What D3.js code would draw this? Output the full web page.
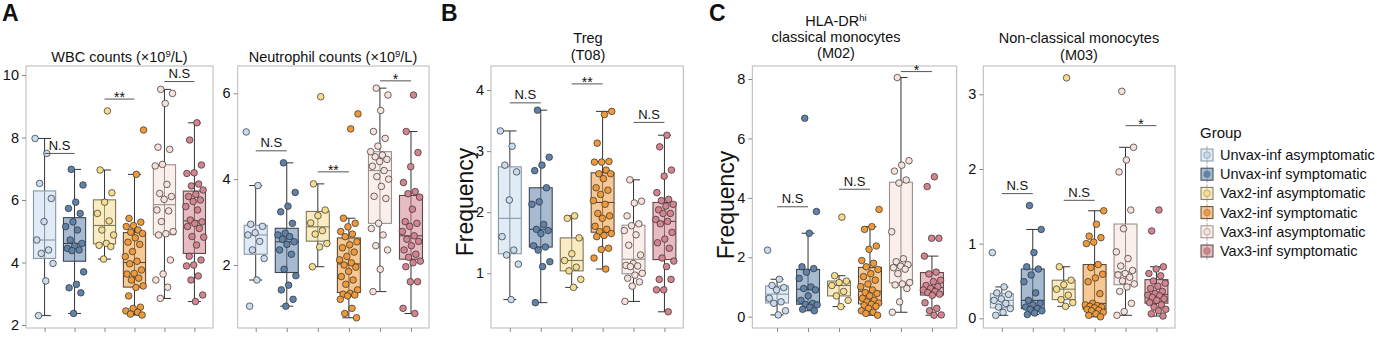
<!DOCTYPE html>
<html><head><meta charset="utf-8">
<script src="https://cdn.jsdelivr.net/npm/d3@7"></script>
<style>
body{margin:0;background:#fff}
svg{display:block}
text{font-family:"Liberation Sans",Arial,sans-serif;fill:#111}
</style>
</head><body>
<svg id="chart" width="1377" height="348"></svg>
<script>
// ---------- categories ----------
const groups = ["Unvax-inf asymptomatic","Unvax-inf symptomatic","Vax2-inf asymptomatic","Vax2-inf symptomatic","Vax3-inf asymptomatic","Vax3-inf symptomatic"];

// ---------- series values (one array per group) ----------
const wbcValues = [
  [7.97,7.49,6.53,6.05,5.31,4.72,4.40,4.29,3.97,3.41,2.30],
  [6.98,6.48,5.93,5.73,5.57,5.30,5.15,5.04,4.72,4.61,4.53,4.45,4.40,4.38,3.70,3.30,3.19,3.03,2.37],
  [8.85,6.96,6.23,5.93,5.57,5.33,5.04,4.88,4.61,4.55,4.51,4.11],
  [8.24,6.82,5.41,5.29,5.18,5.15,5.04,4.97,4.93,4.79,4.65,4.58,4.35,4.19,4.04,3.96,3.76,3.65,3.63,3.50,3.44,3.25,3.20,2.93,2.57,2.53,2.45,2.41,2.35,2.32],
  [9.54,9.41,9.09,7.69,7.62,7.14,7.09,6.50,6.21,6.11,6.02,5.68,5.65,5.31,4.99,4.92,4.88,4.08,3.63,3.44,3.21,2.85],
  [8.47,7.92,7.12,6.87,6.85,6.51,6.45,6.32,6.18,6.11,6.00,5.95,5.79,5.68,5.36,5.30,5.25,5.15,5.09,4.83,4.81,4.56,4.20,4.08,3.92,3.89,3.57,3.44,2.96,2.75]
];
const neutroValues = [
  [5.10,3.85,2.95,2.90,2.75,2.70,2.55,2.35,2.15,1.65,1.04],
  [4.38,3.69,3.37,3.24,2.97,2.74,2.70,2.66,2.60,2.54,2.48,2.35,2.25,1.90,1.75,1.53,1.42,1.20,1.04],
  [5.92,3.89,3.28,3.15,2.98,2.80,2.72,2.50,2.42,1.96],
  [5.52,5.17,3.09,2.97,2.89,2.78,2.72,2.66,2.54,2.47,2.40,2.30,2.20,2.12,2.05,2.00,1.95,1.85,1.73,1.65,1.55,1.42,1.34,1.32,1.30,1.28,1.20,0.99,0.87,0.77],
  [6.12,5.96,5.60,5.11,4.95,4.77,4.64,4.56,4.52,4.46,4.41,4.30,4.20,4.06,4.00,3.83,3.60,3.55,2.97,2.85,2.70,2.45,2.35,1.90,1.38],
  [5.96,5.11,4.62,4.29,3.92,3.71,3.66,3.58,3.30,3.01,2.97,2.90,2.78,2.68,2.60,2.55,2.45,2.35,2.25,2.18,2.09,2.05,1.96,1.61,1.61,0.99,0.87]
];
const tregValues = [
  [3.33,3.08,2.77,2.66,2.20,1.60,1.38,1.30,1.15,0.57],
  [3.67,2.90,2.77,2.68,2.40,2.17,2.13,1.80,1.72,1.70,1.65,1.45,1.43,1.38,1.19,1.11,0.52],
  [1.94,1.90,1.58,1.32,1.21,1.10,1.04,0.90,0.77],
  [3.65,3.60,3.13,2.83,2.82,2.82,2.69,2.63,2.63,2.55,2.40,2.36,2.29,2.19,2.13,1.98,1.94,1.90,1.77,1.72,1.68,1.65,1.62,1.60,1.41,1.39,1.25,1.07],
  [2.53,2.18,2.15,1.94,1.81,1.78,1.70,1.63,1.46,1.30,1.16,1.13,1.12,1.11,1.00,0.97,0.92,0.86,0.79,0.54],
  [3.26,3.07,2.69,2.59,2.32,2.21,2.19,2.13,2.10,2.04,1.98,1.98,1.88,1.85,1.81,1.67,1.56,1.50,1.41,1.25,1.20,1.11,0.90,0.90,0.73,0.73,0.37]
];
const m02Values = [
  [2.24,1.26,1.05,0.98,0.90,0.62,0.50,0.45,0.20,0.06],
  [6.68,3.54,2.81,1.68,1.62,1.50,1.29,1.00,0.95,0.90,0.70,0.55,0.45,0.41,0.40,0.32,0.25,0.20],
  [3.35,1.38,1.20,1.15,1.05,0.85,0.70,0.55,0.34],
  [3.61,3.03,2.94,2.38,2.27,1.89,1.80,1.68,1.59,1.45,1.35,1.23,1.10,1.01,0.90,0.81,0.78,0.70,0.62,0.55,0.50,0.46,0.42,0.38,0.35,0.28,0.20,0.15,0.11,0.05],
  [8.05,5.25,5.10,4.90,4.60,4.50,2.86,1.95,1.85,1.75,1.70,1.65,1.60,1.45,1.15,1.10,1.07,0.95,0.50,0.15],
  [4.71,4.38,2.64,2.64,2.04,1.50,1.44,1.23,1.18,1.05,1.01,0.95,0.90,0.85,0.81,0.76,0.72,0.47,0.28,0.20,0.06,0.05]
];
const m03Values = [
  [0.88,0.42,0.34,0.32,0.26,0.24,0.20,0.15,0.13,0.08,0.04],
  [1.51,1.19,0.88,0.69,0.66,0.58,0.49,0.34,0.24,0.20,0.18,0.15,0.13,0.12,0.10,0.07,0.05],
  [3.22,0.69,0.51,0.45,0.39,0.31,0.25,0.21,0.16],
  [1.44,1.26,1.10,1.08,1.02,1.00,0.72,0.68,0.59,0.54,0.49,0.33,0.20,0.18,0.17,0.16,0.15,0.14,0.12,0.11,0.10,0.08,0.06,0.04,0.02],
  [3.04,2.29,2.12,1.96,1.45,1.20,0.89,0.80,0.70,0.64,0.60,0.58,0.55,0.50,0.46,0.42,0.36,0.20,0.09,0.04],
  [1.45,1.17,0.69,0.66,0.60,0.57,0.50,0.47,0.43,0.40,0.36,0.33,0.31,0.30,0.28,0.26,0.24,0.21,0.18,0.15,0.12,0.10,0.06,0.03]
];

// ---------- tick labels ----------
const wbcTicks = [2,4,6,8,10];
const neutroTicks = [2,4,6];
const tregTicks = [1,2,3,4];
const m02Ticks = [0,2,4,6,8];
const m03Ticks = [0,1,2,3];

// ---------- significance brackets: [from group, to group, height (data units), label] ----------
const wbcSig = [[0,1,7.49,"N.S"],[2,3,9.23,"**"],[4,5,9.79,"N.S"]];
const neutroSig = [[0,1,4.66,"N.S"],[2,3,4.17,"**"],[4,5,6.29,"*"]];
const tregSig = [[0,1,3.79,"N.S"],[2,3,4.10,"**"],[4,5,3.47,"N.S"]];
const m02Sig = [[0,1,3.70,"N.S"],[2,3,4.29,"N.S"],[4,5,8.25,"*"]];
const m03Sig = [[0,1,1.67,"N.S"],[2,3,1.58,"N.S"],[4,5,2.58,"*"]];

// ---------- styles ----------
const pointFill = ["#c8dbef","#5f82aa","#f6dc8f","#ee9a3b","#f8e1db","#d4848f"];
const boxStroke = ["#8797a8","#3b4859","#7d765a","#5c4a36","#9a8f8c","#5e4649"];

const svg = d3.select("#chart");
const TOP = 66, BOT = 328;

const panels = [
  {vals:wbcValues, ticks:wbcTicks, sig:wbcSig, domain:[1.904,10.288], x0:26, x1:213, pad:0.62,
   title:[[["WBC counts (×10",0],["9",1],["/L)",0]]], tx:119.5, ty:[57], ylab:null},
  {vals:neutroValues, ticks:neutroTicks, sig:neutroSig, domain:[0.532,6.636], x0:237.7, x1:429, pad:0.58,
   title:[[["Neutrophil counts (×10",0],["9",1],["/L)",0]]], tx:333, ty:[57], ylab:null},
  {vals:tregValues, ticks:tregTicks, sig:tregSig, domain:[0.105,4.393], x0:491, x1:683.3, pad:0.61,
   title:[[["Treg",0]],[["(T08)",0]]], tx:588, ty:[38,55], ylab:{x:473,y:202}},
  {vals:m02Values, ticks:m02Ticks, sig:m02Sig, domain:[-0.38,8.438], x0:752.3, x1:956.7, pad:0.8,
   title:[[["HLA-DR",0],["hi",1]],[["classical monocytes",0]],[["(M02)",0]]], tx:836, ty:[21,37,53], ylab:{x:734,y:205}},
  {vals:m03Values, ticks:m03Ticks, sig:m03Sig, domain:[-0.13,3.379], x0:983.3, x1:1175, pad:0.6,
   title:[[["Non-classical monocytes",0]],[["(M03)",0]]], tx:1079, ty:[38,55], ylab:null}
];

function jitter(i){ return (((i*0.6180339887)%1) - 0.5) * 2 * 9.5; }

panels.forEach(p => {
  const x = d3.scalePoint().domain(d3.range(groups.length)).range([p.x0,p.x1]).padding(p.pad);
  const y = d3.scaleLinear().domain(p.domain).range([BOT,TOP]);
  const g = svg.append("g");
  const step = x.step();
  const bw = step*0.74, cw = 13;

  g.append("rect").attr("x",p.x0).attr("y",TOP).attr("width",p.x1-p.x0).attr("height",BOT-TOP)
    .attr("fill","none").attr("stroke","#b8b8b8").attr("stroke-width",1);

  const ya = g.append("g").attr("transform",`translate(${p.x0},0)`)
    .call(d3.axisLeft(y).tickValues(p.ticks).tickSize(4).tickPadding(3).tickFormat(d3.format("d")));
  ya.select(".domain").remove();
  ya.selectAll(".tick line").attr("stroke","#888");
  ya.selectAll(".tick text").style("font-size","14.5px").attr("fill","#111");

  const xa = g.append("g").attr("transform",`translate(0,${BOT})`)
    .call(d3.axisBottom(x).tickSize(4).tickFormat(""));
  xa.select(".domain").remove();
  xa.selectAll(".tick line").attr("stroke","#888");

  p.vals.forEach((vals,gi) => {
    const s = vals.slice().sort(d3.ascending);
    const q1 = d3.quantile(s,0.25), med = d3.quantile(s,0.5), q3 = d3.quantile(s,0.75);
    const iqr = q3-q1;
    const lo = d3.min(s.filter(v => v >= q1-1.5*iqr));
    const hi = d3.max(s.filter(v => v <= q3+1.5*iqr));
    const cx = x(gi);
    g.append("line").attr("x1",cx).attr("x2",cx).attr("y1",y(lo)).attr("y2",y(hi)).attr("stroke","#333").attr("stroke-width",1);
    [lo,hi].forEach(v => g.append("line").attr("x1",cx-cw/2).attr("x2",cx+cw/2).attr("y1",y(v)).attr("y2",y(v)).attr("stroke","#333").attr("stroke-width",1));
    g.append("rect").attr("x",cx-bw/2).attr("y",y(q3)).attr("width",bw).attr("height",y(q1)-y(q3))
      .attr("fill",pointFill[gi]).attr("fill-opacity",0.55).attr("stroke",boxStroke[gi]).attr("stroke-width",1.1);
    g.append("line").attr("x1",cx-bw/2).attr("x2",cx+bw/2).attr("y1",y(med)).attr("y2",y(med)).attr("stroke",boxStroke[gi]).attr("stroke-width",1.1);
    g.selectAll(null).data(vals).enter().append("circle")
      .attr("cx",(d,i) => cx + jitter(i+gi*7))
      .attr("cy",d => y(d)).attr("r",3.3)
      .attr("fill",pointFill[gi]).attr("stroke","#2d2d2d").attr("stroke-width",0.7);
  });

  p.sig.forEach(([a,b,h,lab]) => {
    const yy = y(h);
    g.append("line").attr("x1",x(a)).attr("x2",x(b)).attr("y1",yy).attr("y2",yy).attr("stroke","#555").attr("stroke-width",1);
    const star = lab.indexOf("*") >= 0;
    g.append("text").attr("x",(x(a)+x(b))/2).attr("y", star ? yy+3 : yy-3.5)
      .attr("text-anchor","middle").style("font-size", star ? "14px" : "13px").text(lab);
  });

  p.title.forEach((line,li) => {
    const t = g.append("text").attr("x",p.tx).attr("y",p.ty[li]).attr("text-anchor","middle").style("font-size","14.5px");
    line.forEach(([txt,sup]) => {
      if (sup) t.append("tspan").attr("dy",-5).style("font-size","9.5px").text(txt);
      else t.append("tspan").attr("dy", t.selectAll("tspan").size() ? 5 : 0).text(txt);
    });
  });

  if (p.ylab) {
    g.append("text").attr("transform",`translate(${p.ylab.x},${p.ylab.y}) rotate(-90)`)
      .attr("text-anchor","middle").style("font-size","23px").text("Frequency");
  }
});

[["A",2],["B",441],["C",709]].forEach(([l,xx]) =>
  svg.append("text").attr("x",xx).attr("y",21).style("font-size","23px").style("font-weight","bold").text(l));

const lg = svg.append("g");
lg.append("text").attr("x",1200).attr("y",138).style("font-size","15px").text("Group");
groups.forEach((name,i) => {
  const cy = 155 + i*19.2;
  lg.append("line").attr("x1",1207).attr("x2",1207).attr("y1",cy-9).attr("y2",cy+9).attr("stroke","#999").attr("stroke-width",0.8);
  lg.append("rect").attr("x",1201).attr("y",cy-6).attr("width",12).attr("height",12)
    .attr("fill",pointFill[i]).attr("fill-opacity",0.55).attr("stroke",boxStroke[i]).attr("stroke-width",1);
  lg.append("circle").attr("cx",1207).attr("cy",cy).attr("r",3.3).attr("fill",pointFill[i]).attr("stroke","#777").attr("stroke-width",0.5);
  lg.append("text").attr("x",1220).attr("y",cy+5).style("font-size","14.5px").text(name);
});
</script>
</body></html>
